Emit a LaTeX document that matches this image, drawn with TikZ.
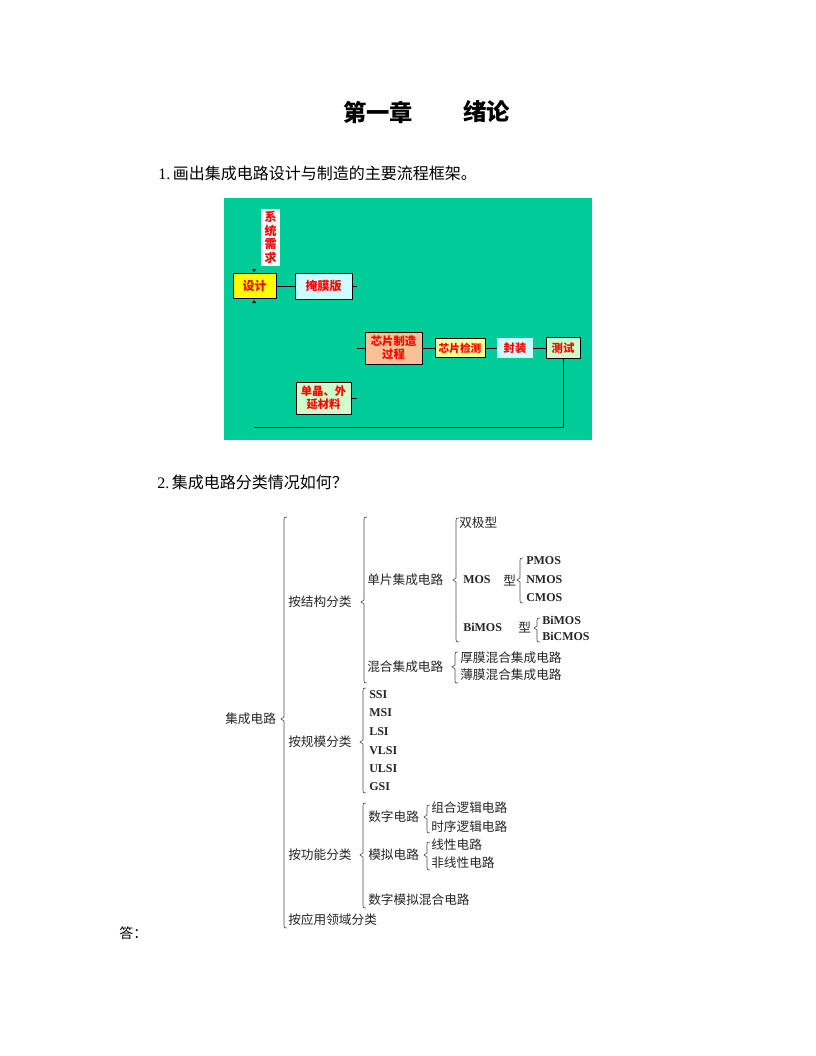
\documentclass[tikz,border=0pt]{standalone}
\usepackage{fontspec}
\setmainfont{Liberation Serif}
\newfontfamily\cjk{Noto Sans CJK SC}
\usetikzlibrary{arrows.meta}
\definecolor{panelgreen}{RGB}{0,204,153}
\definecolor{boxyellow}{RGB}{255,255,0}
\definecolor{boxcyan}{RGB}{204,255,255}
\definecolor{boxpeach}{RGB}{250,192,150}
\definecolor{boxlyellow}{RGB}{255,255,153}
\definecolor{boxlgreen}{RGB}{204,255,204}
\newcommand\tbrace[4]{%
  \draw[brc] (#1+3,#2) .. controls (#1,#2) .. (#1,#2+3) -- (#1,#3-2) -- (#1-3,#3) -- (#1,#3+2) -- (#1,#4-3) .. controls (#1,#4) .. (#1+3,#4);}
\begin{document}
\begin{tikzpicture}[x=0.75pt,y=-0.75pt,
  fbox/.style={draw=black, line width=0.6pt, inner sep=0pt, align=center, text=red,
    font=\cjk\bfseries\fontsize{8.5}{10}\selectfont},
  conn/.style={draw=black, line width=0.6pt},
  tx/.style={anchor=west, inner sep=0pt, text=black!85, font=\cjk\fontsize{9.5}{11}\selectfont},
  lt/.style={anchor=west, inner sep=0pt, text=black!85, font=\bfseries\fontsize{9}{11}\selectfont},
  brc/.style={draw=black!70, line width=0.5pt},
  body/.style={anchor=west, inner sep=0pt, font=\fontsize{12}{14}\selectfont}]
\useasboundingbox (0,0) rectangle (816,1056);
\fill[white] (0,0) rectangle (816,1056);

% title and questions
\node[anchor=west, inner sep=0pt, font=\cjk\bfseries\fontsize{17.5}{20}\selectfont] (t1) at (343,112) {第一章};
\node[anchor=west, inner sep=0pt, font=\cjk\bfseries\fontsize{17.5}{20}\selectfont] (t2) at (463,112) {绪论};
\node[body] (q1) at (158,173) {1.\,{\cjk 画出集成电路设计与制造的主要流程框架。}};
\node[body] (q2) at (157,482) {2.\,{\cjk 集成电路分类情况如何？}};
\node[anchor=west, inner sep=0pt, font=\cjk\fontsize{10.5}{12}\selectfont] (ans) at (119,933) {答：};

% flow chart panel
\fill[panelgreen] (224,198) rectangle (592,440);
\node[fbox, draw=none, fill=white, minimum width=14.25pt, minimum height=42.75pt,
  font=\cjk\bfseries\fontsize{9}{10.3}\selectfont] (sys) at (270.5,237.5) {系\\统\\需\\求};
\node[fbox, fill=boxyellow, minimum width=32.25pt, minimum height=18.75pt,
  font=\cjk\bfseries\fontsize{9}{10}\selectfont] (design) at (254.5,286) {设计};
\node[fbox, fill=boxcyan, minimum width=42.75pt, minimum height=19.5pt,
  font=\cjk\bfseries\fontsize{9}{10}\selectfont] (mask) at (323.5,286) {掩膜版};
\node[fbox, fill=boxpeach, minimum width=42.75pt, minimum height=24pt] (fab) at (393.5,348) {芯片制造\\过程};
\node[fbox, fill=boxlyellow, minimum width=37.5pt, minimum height=14.25pt,
  font=\cjk\bfseries\fontsize{8}{10}\selectfont] (chk) at (460,348) {芯片检测};
\node[fbox, draw=none, fill=boxcyan, minimum width=27pt, minimum height=15pt] (pkg) at (515,348) {封装};
\node[fbox, fill=boxlgreen, minimum width=25.5pt, minimum height=15.75pt] (tst) at (563,348) {测试};
\node[fbox, fill=boxlgreen, minimum width=41.25pt, minimum height=24pt] (mat) at (323.5,398) {单晶、外\\延材料};

\coordinate (m1) at (357,286);
\coordinate (f0) at (357,348);
\coordinate (s1) at (357,398);
\coordinate (endc) at (254,427);

\draw[conn] (design) -- (mask);
\draw[conn] (mask) -- (m1);
\draw[conn] (f0) -- (fab);
\draw[conn] (fab) -- (chk);
\draw[conn] (chk) -- (pkg);
\draw[conn] (pkg) -- (tst);
\draw[conn] (tst.south) |- (endc);
\draw[conn] (mat) -- (s1);
\fill[black] (252,269) -- (256,269) -- (254,272) -- cycle;
\fill[black] (252,303) -- (256,303) -- (254,300) -- cycle;

% classification tree
\node[tx] (ic) at (225,719) {集成电路};
\tbrace{284}{517}{719}{928}

\node[tx] (bystruct) at (288,602) {按结构分类};
\tbrace{364}{517}{602}{683}
\node[tx] (mono) at (367,580) {单片集成电路};
\tbrace{456}{518}{580}{642}
\node[tx] (bip) at (459,523) {双极型};
\node[lt] (mos) at (463,580) {MOS};
\node[tx] (mosx) at (503,580) {型};
\tbrace{520}{558}{580}{603}
\node[lt] (pmos) at (526,561) {PMOS};
\node[lt] (nmos) at (526,580) {NMOS};
\node[lt] (cmos) at (526,598) {CMOS};
\node[lt] (bimos) at (463,627) {BiMOS};
\node[tx] (bimosx) at (518,627) {型};
\tbrace{537}{618}{628}{642}
\node[lt] (bimos2) at (542,620) {BiMOS};
\node[lt] (bicmos) at (542,636) {BiCMOS};
\node[tx] (hyb) at (367,667) {混合集成电路};
\tbrace{455}{652}{667}{683}
\node[tx] (thick) at (460,658) {厚膜混合集成电路};
\node[tx] (thin) at (460,675) {薄膜混合集成电路};

\node[tx] (byscale) at (288,742) {按规模分类};
\tbrace{363}{688}{742}{793}
\node[lt] (ssi) at (369,695) {SSI};
\node[lt] (msi) at (369,713) {MSI};
\node[lt] (lsi) at (369,732) {LSI};
\node[lt] (vlsi) at (369,751) {VLSI};
\node[lt] (ulsi) at (369,769) {ULSI};
\node[lt] (gsi) at (369,787) {GSI};

\node[tx] (byfunc) at (288,855) {按功能分类};
\tbrace{363}{803}{855}{908}
\node[tx] (dig) at (368,817) {数字电路};
\tbrace{427}{805}{817}{833}
\node[tx] (comb) at (431,808) {组合逻辑电路};
\node[tx] (seq) at (431,827) {时序逻辑电路};
\node[tx] (ana) at (368,855) {模拟电路};
\tbrace{427}{842}{855}{870}
\node[tx] (lin) at (431,845) {线性电路};
\node[tx] (nlin) at (431,863) {非线性电路};
\node[tx] (mix) at (368,900) {数字模拟混合电路};

\node[tx] (byapp) at (288,920) {按应用领域分类};
\end{tikzpicture}
\end{document}
